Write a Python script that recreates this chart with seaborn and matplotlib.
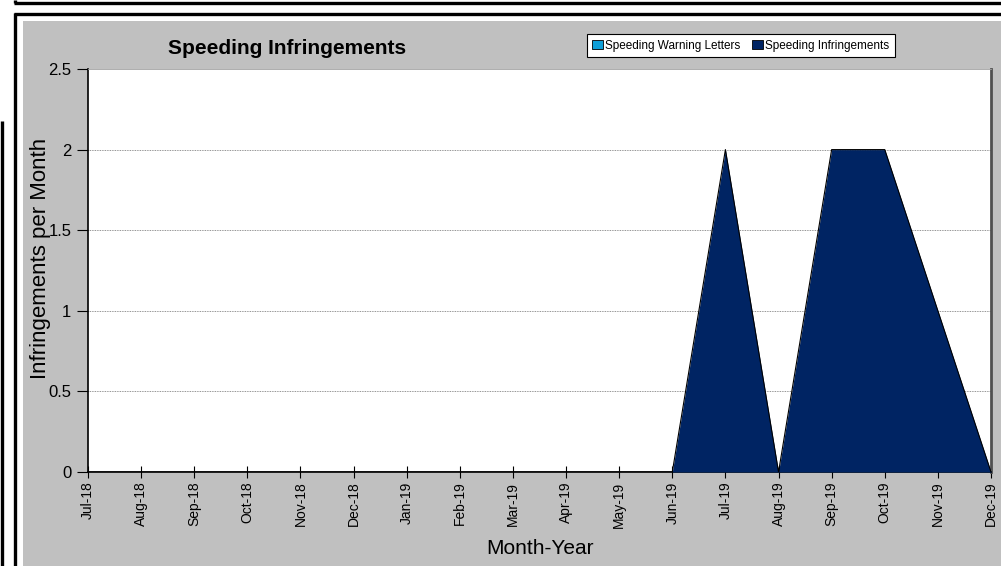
import numpy as np
import pandas as pd
import seaborn as sns
import matplotlib.pyplot as plt
from matplotlib.patches import Patch, Rectangle
from matplotlib.lines import Line2D

MONTHS = [
    "Jul-18", "Aug-18", "Sep-18", "Oct-18", "Nov-18", "Dec-18",
    "Jan-19", "Feb-19", "Mar-19", "Apr-19", "May-19", "Jun-19",
    "Jul-19", "Aug-19", "Sep-19", "Oct-19", "Nov-19", "Dec-19",
]
WARNING_LETTERS = [0, 0, 0, 0, 0, 0, 0, 0, 0, 0, 0, 0, 0, 0, 0, 0, 0, 0]
INFRINGEMENTS = [0, 0, 0, 0, 0, 0, 0, 0, 0, 0, 0, 0, 2, 0, 2, 2, 1, 0]
Y_TICKS = [0, 0.5, 1, 1.5, 2, 2.5]
Y_TICK_LABELS = ["0", "0.5", "1", "1.5", "2", "2.5"]

NAVY = "#002463"
CYAN = "#0f9fd8"
GRAY = "#c0c0c0"

W, H = 1001, 566

sns.set_theme(style="white")
plt.rcParams["font.family"] = ["Liberation Sans", "DejaVu Sans"]
plt.rcParams["text.color"] = "black"
plt.rcParams["axes.labelcolor"] = "black"
plt.rcParams["xtick.color"] = "black"
plt.rcParams["ytick.color"] = "black"

df = pd.DataFrame({
    "pos": np.arange(len(MONTHS)),
    "month": MONTHS,
    "warn": WARNING_LETTERS,
    "inf": INFRINGEMENTS,
})

fig = plt.figure(figsize=(W / 100, H / 100), dpi=100)
fig.patch.set_facecolor("white")

# frame decoration (pixel coords -> figure fraction)
def fx(px):
    return px / W

def fy(py):
    return 1 - py / H

fig.patches.append(Rectangle((fx(23), 0), fx(W - 23), fy(21), transform=fig.transFigure,
                             facecolor=GRAY, edgecolor="none", zorder=-10))
for xs, ys in [
    ([14, W], [3, 3]), ([15, 15], [0, 3]),
    ([14, W], [13.5, 13.5]), ([15, 15], [13, H]),
    ([1.5, 1.5], [121, H]),
]:
    fig.lines.append(Line2D([fx(x) for x in xs], [fy(y) for y in ys], transform=fig.transFigure,
                            color="black", lw=2.4, solid_capstyle="butt", zorder=-5))

ax = fig.add_axes([fx(88), fy(472), fx(991 - 88), (472 - 69) / H])
ax.set_facecolor("white")

ax.fill_between(df["pos"], df["warn"], color=CYAN, lw=0, zorder=2)
ax.fill_between(df["pos"], df["inf"], color=NAVY, lw=0, zorder=3)
sns.lineplot(data=df, x="pos", y="inf", ax=ax, color="black", lw=0.8, zorder=4)

ax.set_xlim(0, len(MONTHS) - 1)
ax.set_ylim(0, 2.5)
ax.set_yticks(Y_TICKS)
ax.set_yticklabels(Y_TICK_LABELS, fontsize=12)
ax.set_xticks(df["pos"])
ax.set_xticklabels(MONTHS, rotation=90, fontsize=10)
for y in Y_TICKS[1:-1]:
    ax.axhline(y, color="#707070", lw=0.6, ls=(0, (1, 1)), zorder=1)

ax.tick_params(axis="y", direction="out", length=8, width=0.8, color="black", pad=4, left=True)
ax.tick_params(axis="x", direction="inout", length=8, width=0.8, color="black", pad=3, bottom=True)

for side in ["left", "bottom"]:
    ax.spines[side].set_color("black")
    ax.spines[side].set_linewidth(1.2)
ax.spines["right"].set_color("#505050")
ax.spines["right"].set_linewidth(2)
ax.spines["top"].set_color("#a0a0a0")
ax.spines["top"].set_linewidth(0.6)

ax.set_xlabel("Month-Year", fontsize=15)
ax.set_ylabel("Infringements per Month", fontsize=16, va="center")
ax.xaxis.set_label_coords(0.5, (472 - 548) / 403)
ax.yaxis.set_label_coords((41 - 88) / 903, 0.53)
ax.xaxis.label.set_va("center")

fig.text(fx(287), fy(48), "Speeding Infringements", fontsize=15, fontweight="bold",
         ha="center", va="center", color="black")

handles = [
    Patch(facecolor=CYAN, edgecolor="black", lw=0.6, label="Speeding Warning Letters"),
    Patch(facecolor=NAVY, edgecolor="black", lw=0.6, label="Speeding Infringements"),
]
leg = fig.legend(handles=handles, loc="center", bbox_to_anchor=(fx(741), fy(45.5)), ncol=2,
                 fontsize=8.5, frameon=True, fancybox=False, handlelength=0.9, handleheight=0.9,
                 handletextpad=0.2, columnspacing=1.0, borderpad=0.45, borderaxespad=0)
leg.get_frame().set_edgecolor("black")
leg.get_frame().set_linewidth(0.8)
leg.get_frame().set_facecolor("white")
leg.get_frame().set_alpha(1)

fig.savefig("out.png", dpi=100, facecolor=fig.get_facecolor())
